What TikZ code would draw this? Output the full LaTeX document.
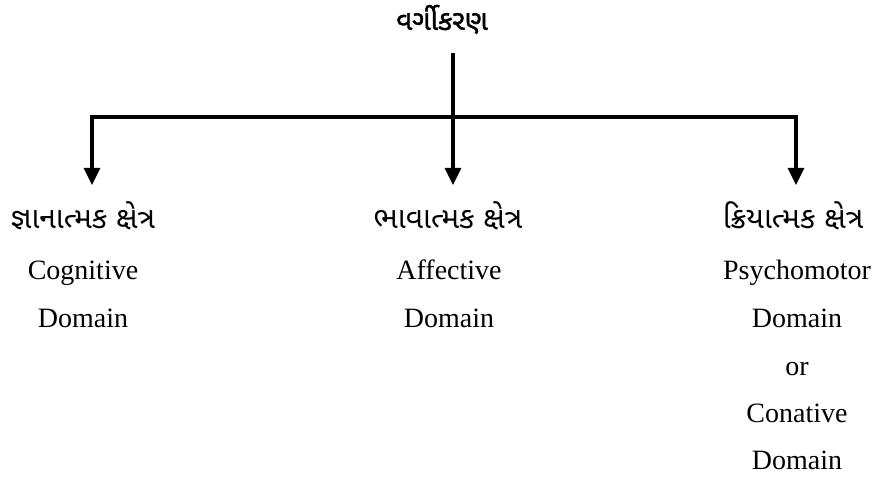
\documentclass[tikz,border=0pt]{standalone}
\usepackage{fontspec}
\setmainfont{Liberation Serif}
\newfontfamily\guj[Script=Gujarati]{Noto Sans Gujarati UI}
\newfontfamily\gujb[Script=Gujarati,FakeBold=1.5]{Noto Sans Gujarati UI}
\usetikzlibrary{arrows.meta}
\begin{document}
\begin{tikzpicture}[x=1pt,y=-1pt,
  lbl/.style={inner sep=0pt,anchor=base,font=\fontsize{28}{34}\selectfont},
  glbl/.style={inner sep=0pt,anchor=base,font=\guj\fontsize{30}{36}\selectfont},
  conn/.style={line width=3.2pt},
  arr/.style={conn,-{Triangle[length=17pt,width=16pt]}}]
\useasboundingbox (0,0) rectangle (891,481);
\node[inner sep=0pt,anchor=base,font=\gujb\fontsize{28}{34}\selectfont] (title) at (442,30) {વર્ગીકરણ};
\coordinate (top) at (453,53);
\coordinate (mid) at (453,117);
\coordinate (la) at (92,185);
\coordinate (ma) at (453,185);
\coordinate (ra) at (796,185);
\draw[conn] (top) -- (mid);
\draw[arr] (mid) -| (la);
\draw[arr] (mid) -| (ra);
\draw[arr] (mid) -- (ma);
% left column
\node[glbl] (g1) at (83,228) {જ્ઞાનાત્મક ક્ષેત્ર};
\node[lbl] (c1) at (83,279) {Cognitive};
\node[lbl] (c2) at (83,327) {Domain};
% middle column
\node[glbl] (g2) at (448,228) {ભાવાત્મક ક્ષેત્ર};
\node[lbl] (a1) at (449,279) {Affective};
\node[lbl] (a2) at (449,327) {Domain};
% right column
\node[glbl] (g3) at (793,228) {ક્રિયાત્મક ક્ષેત્ર};
\node[lbl] (p1) at (797,279) {Psychomotor};
\node[lbl] (p2) at (797,327) {Domain};
\node[lbl] (p3) at (797,375) {or};
\node[lbl] (p4) at (797,422) {Conative};
\node[lbl] (p5) at (797,469) {Domain};
\end{tikzpicture}
\end{document}
